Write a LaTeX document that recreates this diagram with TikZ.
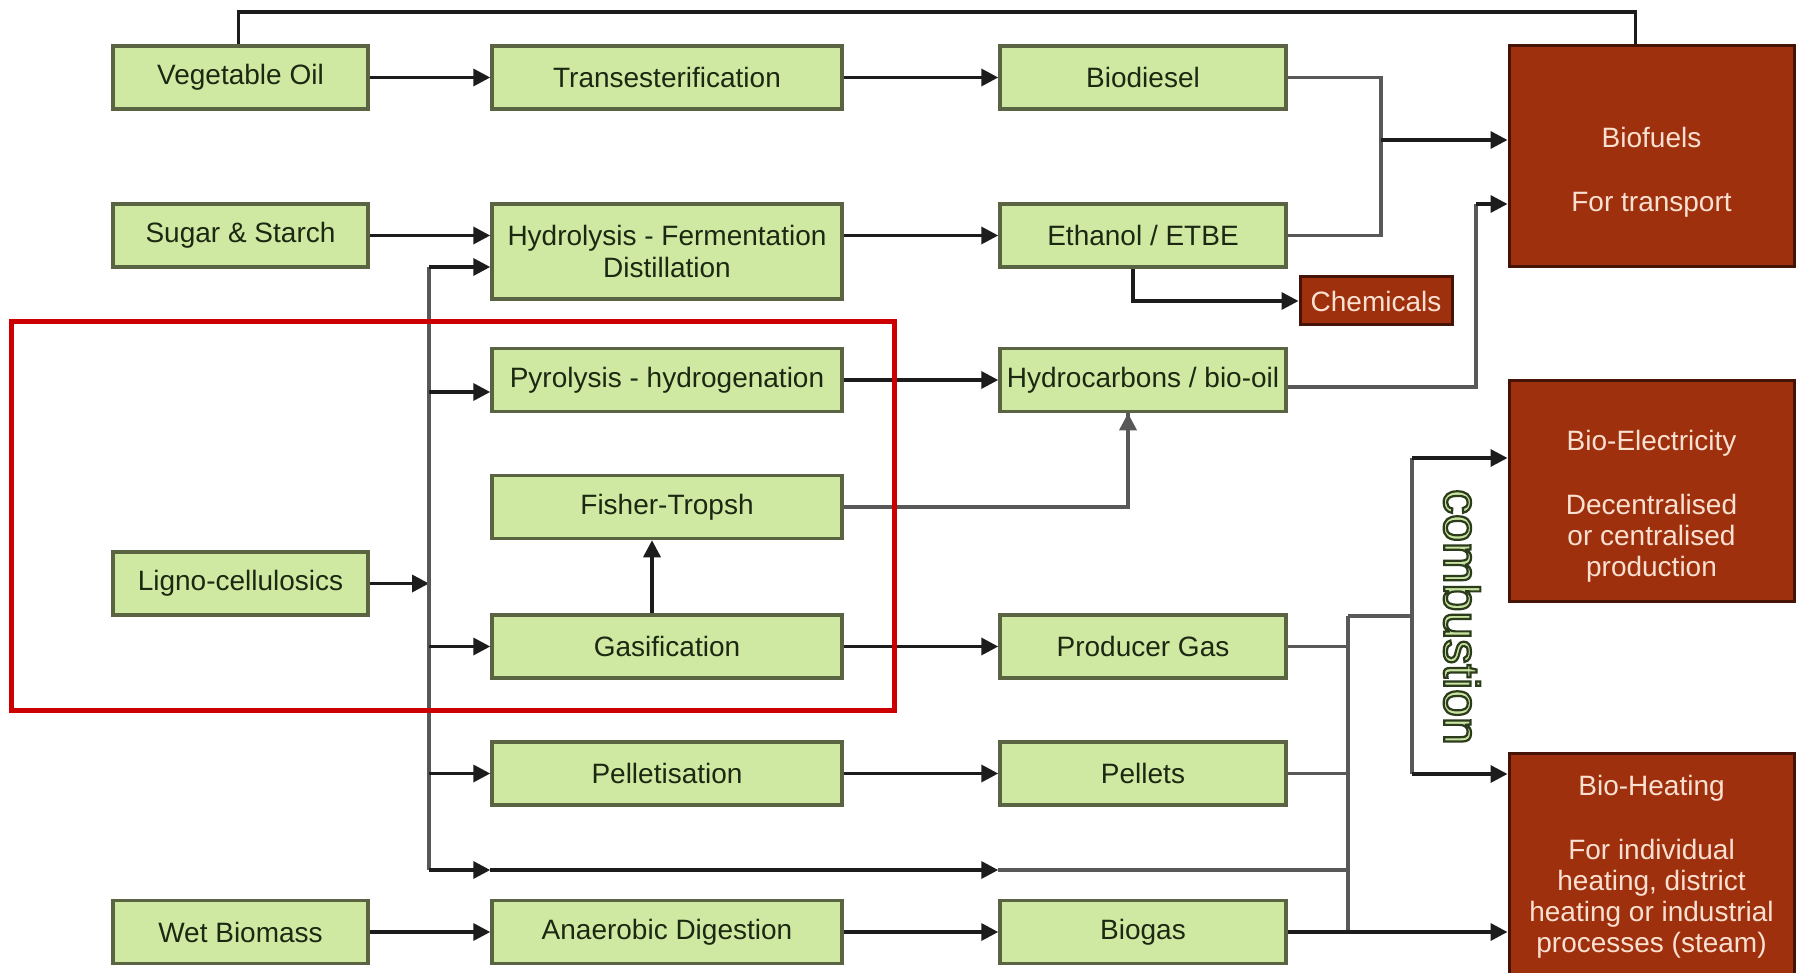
\documentclass[tikz,border=0pt]{standalone}
\usepackage{fontspec}
\setmainfont{Liberation Sans}
\usetikzlibrary{arrows.meta}
\definecolor{gfill}{RGB}{208,233,162}
\definecolor{gline}{RGB}{90,100,66}
\definecolor{gtext}{RGB}{28,40,18}
\definecolor{bfill}{RGB}{158,48,14}
\definecolor{bline}{RGB}{70,20,6}
\definecolor{btext}{RGB}{250,224,208}
\definecolor{conn}{RGB}{28,28,28}
\definecolor{conng}{RGB}{88,88,88}
\definecolor{redframe}{RGB}{204,0,0}
\definecolor{combfill}{RGB}{200,228,160}
\begin{document}
\begin{tikzpicture}[x=1pt,y=-1pt,
  gbox/.style={draw=gline, line width=3.5pt, fill=gfill, text=gtext,
    font=\fontsize{28}{32}\selectfont, align=center, inner sep=0pt},
  bbox/.style={draw=bline, line width=3pt, fill=bfill, inner sep=0pt},
  btxt/.style={text=btext, font=\fontsize{28}{31}\selectfont, align=center, inner sep=0pt},
  c1/.style={minimum width=255pt, minimum height=63pt},
  c2/.style={minimum width=350pt, minimum height=63pt},
  c3/.style={minimum width=286pt, minimum height=63pt},
  c4/.style={minimum width=285pt},
  arr/.style={draw=conn, line width=3.5pt, -{Triangle[length=17pt,width=17pt]}},
  ln/.style={draw=conng, line width=3.5pt},
  lnk/.style={draw=conn, line width=3.5pt}]
\useasboundingbox[fill=white] (0,0) rectangle (1803,973);

% column 1
\node[gbox,c1] (veg)   at (240.5,77.5)  {Vegetable Oil};
\node[gbox,c1] (sugar) at (240.5,235.5) {Sugar \& Starch};
\node[gbox,c1] (ligno) at (240.5,583.5) {Ligno-cellulosics};
\node[gbox,c1] (wet)   at (240.5,932)   {Wet Biomass};
% column 2
\node[gbox,c2] (trans) at (667,77.5)  {Transesterification};
\node[gbox,c2,minimum height=95pt] (hydro) at (667,251.5) {Hydrolysis - Fermentation\\Distillation};
\node[gbox,c2] (pyro)  at (667,380)   {Pyrolysis - hydrogenation};
\node[gbox,c2] (ft)    at (667,507)   {Fisher-Tropsh};
\node[gbox,c2] (gas)   at (667,646.5) {Gasification};
\node[gbox,c2] (pel)   at (667,773.5) {Pelletisation};
\node[gbox,c2] (anae)  at (667,932)   {Anaerobic Digestion};
% column 3
\node[gbox,c3] (biod)   at (1143,77.5)  {Biodiesel};
\node[gbox,c3] (eth)    at (1143,235.5) {Ethanol / ETBE};
\node[gbox,c3] (hydroc) at (1143,380)   {Hydrocarbons / bio-oil};
\node[gbox,c3] (pgas)   at (1143,646.5) {Producer Gas};
\node[gbox,c3] (pellets) at (1143,773.5) {Pellets};
\node[gbox,c3] (biogas) at (1143,932)   {Biogas};
% outputs
\node[bbox, minimum width=152pt, minimum height=48pt, btxt] (chem) at (1376,301) {Chemicals};
\node[bbox,c4,minimum height=221pt] (bfuel) at (1651.5,156.5) {};
\node[btxt] at ([yshift=-16pt]bfuel.center) {Biofuels\\[33pt]For transport};
\node[bbox,c4,minimum height=221pt] (belec) at (1651.5,490.5) {};
\node[btxt] at ([yshift=-16pt]belec.center) {Bio-Electricity\\[33pt]Decentralised\\or centralised\\production};
\node[bbox,c4,minimum height=227pt] (bheat) at (1651.5,866.5) {};
\node[btxt] at (bheat.center) {Bio-Heating\\[33pt]For individual\\heating, district\\heating or industrial\\processes (steam)};

% helper coordinates
\coordinate (topy) at (0,12);
\coordinate (bustop) at (429,267);
\coordinate (busbot) at (429,870);
\coordinate (brk) at (1381,140);
\coordinate (hcr) at (1476,204);
\coordinate (colltop) at (1348,616);
\coordinate (collbot) at (1348,933);
\coordinate (combtop) at (1412,458);
\coordinate (combbot) at (1412,774);
\path ([xshift=-16pt]bfuel.north) coordinate (bfn);
\path ([yshift=-12pt]pyro.west) coordinate (pyin);
\path ([yshift=-7pt]hydroc.east) coordinate (hcout);
\path ([xshift=-10pt]eth.south) coordinate (ethdn);

% top line
\draw[lnk] ([xshift=-2pt]veg.north) |- (topy -| bfn) -- (bfn);

% horizontal flows
\draw[arr] (veg.east) -- (trans.west);
\draw[arr] (trans.east) -- (biod.west);
\draw[arr] (sugar.east) -- (sugar.east -| hydro.west);
\draw[arr] (hydro.east |- eth.west) -- (eth.west);
\draw[arr] (pyro.east) -- (hydroc.west);
\draw[arr] (gas.east) -- (pgas.west);
\draw[arr] (pel.east) -- (pellets.west);
\draw[arr] (wet.east) -- (anae.west);
\draw[arr] (anae.east) -- (biogas.west);
\draw[arr] ([xshift=-15pt]gas.north) -- ([xshift=-15pt]ft.south);
\draw[ln] (ft.east) -| ([xshift=-15pt]hydroc.south);
\draw[arr,draw=conng] ([xshift=-15pt,yshift=-40pt]hydroc.south) -- ([xshift=-15pt]hydroc.south);

% ligno distribution bus
\draw[arr] (ligno.east) -- (ligno.east -| bustop);
\draw[ln] (bustop) -- (busbot);
\draw[arr] (bustop) -- (bustop -| hydro.west);
\draw[arr] (pyin -| bustop) -- (pyin);
\draw[arr] (gas.west -| bustop) -- (gas.west);
\draw[arr] (pel.west -| bustop) -- (pel.west);
\draw[arr] (busbot) -- (busbot -| anae.west);
\draw[arr] (busbot -| anae.west) -- (busbot -| biogas.west);
\draw[ln] (busbot -| biogas.west) -- (busbot -| colltop);

% biofuels
\draw[ln] (biod.east) -- (biod.east -| brk) -- (eth.east -| brk) -- (eth.east);
\draw[arr] (brk) -- (brk -| bfuel.west);
\draw[ln] (hcout) -- (hcout -| hcr) -- (hcr);
\draw[arr] (hcr) -- (hcr -| bfuel.west);
\draw[arr] (ethdn) |- (chem.west);

% combustion collector
\draw[ln] (pgas.east) -- (pgas.east -| colltop);
\draw[ln] (pellets.east) -- (pellets.east -| colltop);
\draw[ln] (colltop) -- (collbot);
\draw[arr] (biogas.east) -- (biogas.east -| bheat.west);
\draw[ln] (colltop) -- (colltop -| combtop);
\draw[ln] (combtop) -- (combbot);
\draw[arr] (combtop) -- (combtop -| belec.west);
\draw[arr] (combbot) -- (combbot -| bheat.west);
\node[rotate=-90, inner sep=0pt, font=\fontsize{50}{56}\selectfont] (comb) at (1462,617)
  {\color{combfill}\special{pdf:literal direct 2 Tr 2.2 w 0.17 0.23 0.11 RG}combustion\special{pdf:literal direct 0 Tr}};

% red highlight frame
\draw[draw=redframe, line width=5pt] (11,322) rectangle (894,710);
\end{tikzpicture}
\end{document}
